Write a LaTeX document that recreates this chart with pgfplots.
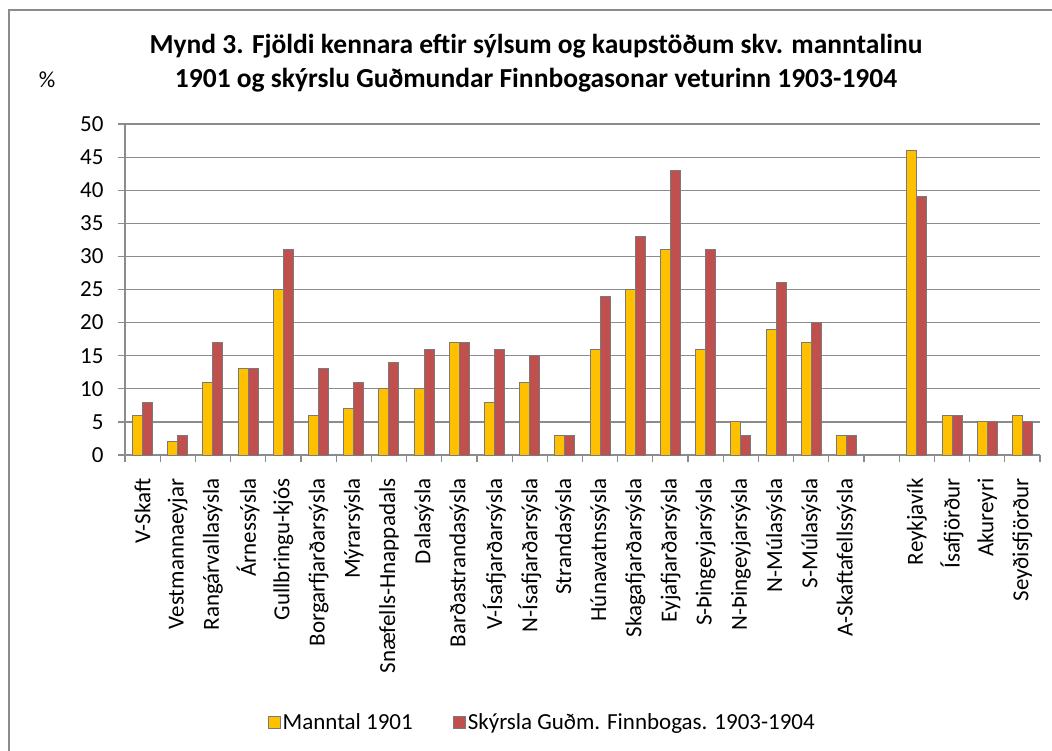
\documentclass[border=0pt]{standalone}
\usepackage{pgfplots}
\pgfplotsset{compat=1.18}
\usepackage{fontspec}
\setmainfont{Carlito}
\definecolor{manntal}{HTML}{FFC000}
\definecolor{skyrsla}{HTML}{C0504D}
\definecolor{edge}{HTML}{7A7A7A}
\definecolor{gridc}{HTML}{8C8C8C}
\definecolor{frame}{HTML}{8C8C8C}

\begin{document}
\begin{tikzpicture}
\useasboundingbox (0pt,0pt) rectangle (1052pt,-751pt);
\draw[frame, line width=2.5pt] (9pt,-751pt) -- (9pt,-10pt) -- (1052pt,-10pt);
\node[anchor=base, font=\fontsize{27.5}{32}\selectfont\bfseries] at (536pt,-54pt)
  {Mynd 3. Fjöldi kennara eftir sýlsum og kaupstöðum skv. manntalinu};
\node[anchor=base, font=\fontsize{27.5}{32}\selectfont\bfseries] at (536pt,-88pt)
  {1901 og skýrslu Guðmundar Finnbogasonar veturinn 1903-1904};
\node[anchor=base, font=\fontsize{23}{27}\selectfont] at (47pt,-88pt) {\%};
\begin{axis}[
  at={(125pt,-455pt)}, anchor=south west,
  scale only axis, width=915pt, height=331pt,
  xmin=-0.5, xmax=25.5, ymin=0, ymax=50,
  enlargelimits=false,
  axis x line=bottom, axis y line=left,
  axis line style={-, gridc, line width=1.2pt},
  ybar=0pt, bar width=10pt,
  xtick={-0.5,0.5,...,25.5}, x tick label as interval,
  xticklabels={V-Skaft, Vestmannaeyjar, Rangárvallasýsla, Árnessýsla,
    Gullbringu-kjós, Borgarfjarðarsýsla, Mýrarsýsla, Snæfells-Hnappadals,
    Dalasýsla, Barðastrandasýsla, V-Ísafjarðarsýsla, N-Ísafjarðarsýsla,
    Strandasýsla, Húnavatnssýsla, Skagafjarðarsýsla, Eyjafjarðarsýsla,
    S-Þingeyjarsýsla, N-Þingeyjarsýsla, N-Múlasýsla, S-Múlasýsla,
    A-Skaftafellssýsla, {}, Reykjavík, Ísafjörður, Akureyri, Seyðisfjörður},
  xticklabel style={rotate=90, anchor=east},
  xticklabel shift=13pt,
  ytick={0,5,...,50},
  yticklabel shift=11pt,
  ymajorgrids, grid style={gridc, line width=1.2pt},
  tick align=outside, major tick length=7pt,
  tick style={gridc, line width=1.2pt},
  ticklabel style={font=\fontsize{23}{27}\selectfont},
  /pgf/number format/assume math mode=true,
  legend style={at={(axis description cs:0.456,-0.807)}, anchor=center,
    draw=none, font=\fontsize{23}{27}\selectfont,
    /tikz/every even column/.append style={column sep=38pt}},
  legend columns=2,
  legend image code/.code={\draw[#1] (0pt,-6pt) rectangle (12pt,6pt);},
]
\addplot[fill=manntal, draw=edge, line width=1pt] coordinates {
  (0,6) (1,2) (2,11) (3,13) (4,25) (5,6) (6,7) (7,10) (8,10) (9,17)
  (10,8) (11,11) (12,3) (13,16) (14,25) (15,31) (16,16) (17,5) (18,19)
  (19,17) (20,3) (22,46) (23,6) (24,5) (25,6)};
\addplot[fill=skyrsla, draw=edge, line width=1pt] coordinates {
  (0,8) (1,3) (2,17) (3,13) (4,31) (5,13) (6,11) (7,14) (8,16) (9,17)
  (10,16) (11,15) (12,3) (13,24) (14,33) (15,43) (16,31) (17,3) (18,26)
  (19,20) (20,3) (22,39) (23,6) (24,5) (25,5)};
\legend{Manntal 1901, Skýrsla Guðm. Finnbogas. 1903-1904}
\end{axis}
\end{tikzpicture}
\end{document}
